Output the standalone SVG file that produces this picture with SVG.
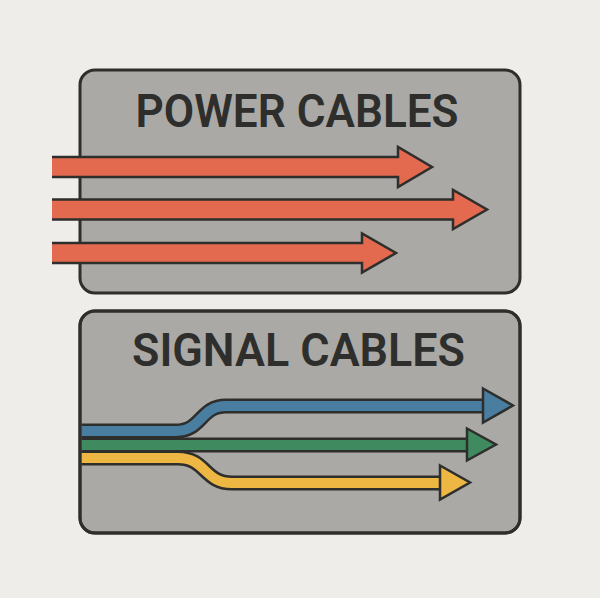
<svg xmlns="http://www.w3.org/2000/svg" width="600" height="598" viewBox="0 0 600 598">
<style>
.box{fill:#AAA9A6;stroke:#2E2E2C;stroke-width:3}
.title{font-family:Roboto,"Liberation Sans",sans-serif;font-weight:600;font-size:46px;fill:#2E2E2C;text-anchor:middle}
.pfill{fill:#E36A4F}
.out{fill:none;stroke:#2E2E2C;stroke-width:2.5;stroke-linejoin:miter}
.dark{fill:none;stroke:#2E2E2C;stroke-width:15}
.head{stroke:#2E2E2C;stroke-width:2.5;stroke-linejoin:miter}
</style>
<rect width="600" height="598" fill="#EEEDE9"/>
<g id="power-box">
<rect class="box" x="80" y="70" width="440" height="223" rx="15"/>
<text class="title" x="297" y="127" textLength="323" lengthAdjust="spacingAndGlyphs">POWER CABLES</text>
</g>
<g id="signal-box">
<rect class="box" x="80" y="311" width="440" height="222" rx="15"/>
<text class="title" x="298.5" y="366" textLength="333" lengthAdjust="spacingAndGlyphs">SIGNAL CABLES</text>
</g>
<g id="connectors">
<g id="power-1">
<polygon class="pfill" points="52,157 398,157 398,147 432,167 398,187 398,177 52,177"/>
<polyline class="out" points="52,157 398,157 398,147 432,167 398,187 398,177 52,177"/>
</g>
<g id="power-2">
<polygon class="pfill" points="52,199.5 453,199.5 453,190 487,209.5 453,229 453,219.5 52,219.5"/>
<polyline class="out" points="52,199.5 453,199.5 453,190 487,209.5 453,229 453,219.5 52,219.5"/>
</g>
<g id="power-3">
<polygon class="pfill" points="52,243 362,243 362,233.5 396,253 362,272.5 362,263 52,263"/>
<polyline class="out" points="52,243 362,243 362,233.5 396,253 362,272.5 362,263 52,263"/>
</g>
<g id="signal-blue">
<path class="dark" d="M81.5,431 H176 C202,431 200,406 226,406 H485"/>
<path fill="none" stroke="#4A7EA0" stroke-width="10" d="M81.5,431 H176 C202,431 200,406 226,406 H485"/>
<polygon class="head" fill="#4A7EA0" points="483,388.5 513,405.5 483,422.5"/>
</g>
<g id="signal-green">
<path class="dark" d="M81.5,445 H469"/>
<path fill="none" stroke="#3F8A5F" stroke-width="10" d="M81.5,445 H469"/>
<polygon class="head" fill="#3F8A5F" points="467,428.5 496,444.5 467,460.5"/>
</g>
<g id="signal-yellow">
<path class="dark" d="M81.5,458 H178 C206,458 204,483 232,483 H442"/>
<path fill="none" stroke="#EEB643" stroke-width="10" d="M81.5,458 H178 C206,458 204,483 232,483 H442"/>
<polygon class="head" fill="#EEB643" points="440,465.5 470,482.5 440,499.5"/>
</g>
</g>
<rect x="80" y="311" width="440" height="222" rx="15" fill="none" stroke="#2E2E2C" stroke-width="3"/>
</svg>
